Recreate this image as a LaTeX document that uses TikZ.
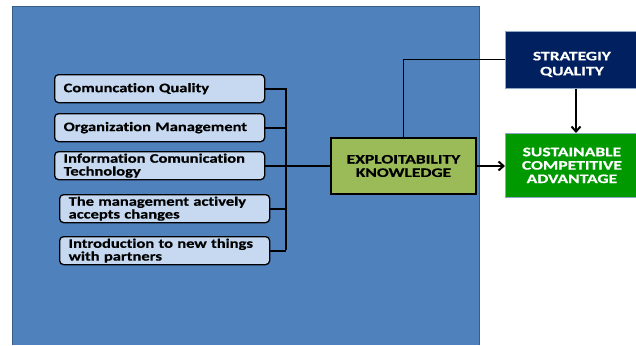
\documentclass[tikz,border=0pt]{standalone}
\usepackage{fontspec}
\setmainfont{Carlito}[Ligatures=NoCommon]
\newfontfamily\lowfont{Carlito}[Ligatures=NoCommon, FakeStretch=1.27, BoldFeatures={FakeBold=0.6}]
\newfontfamily\capfont{Carlito}[Ligatures=NoCommon, FakeStretch=1.35, BoldFeatures={FakeBold=0.6}]
\usetikzlibrary{arrows.meta}
\definecolor{bgblue}{HTML}{4F81BD}
\definecolor{bgedge}{HTML}{385D8A}
\definecolor{lightbox}{HTML}{C6D9F1}
\definecolor{ekgreen}{HTML}{9BBB59}
\definecolor{navy}{HTML}{002060}
\definecolor{scagreen}{HTML}{009900}
\definecolor{paleedge}{HTML}{8EA9C8}
\tikzset{
  factor/.style={draw=black, line width=1.3pt, fill=lightbox, rounded corners=4pt,
    anchor=north west, text width=192pt, inner xsep=9pt, inner ysep=0pt,
    minimum height=28pt, align=left, font=\lowfont\bfseries\fontsize{13}{12.8}\selectfont},
  bus/.style={line width=2pt, black},
  rbox/.style={anchor=north west, inner sep=0pt, align=center,
    font=\capfont\bfseries\fontsize{13}{13.4}\selectfont},
}
\begin{document}
\begin{tikzpicture}[x=1pt,y=-1pt]
\useasboundingbox (0,0) rectangle (636,345);
\fill[white] (0,0) rectangle (636,345);
% blue background panel
\fill[bgblue] (12,6) rectangle (480,345);
\draw[bgedge, line width=1.2pt] (12.6,345) -- (12.6,6.6) -- (479.4,6.6) -- (479.4,345);
% factor boxes
\node[factor] (f1) at (54,74) {Comuncation Quality};
\node[factor] (f2) at (54,113) {Organization Management};
\node[factor] (f3) at (54,151) {Information Comunication\\Technology};
\node[factor] (f4) at (59,194) {The management actively\\accepts changes};
\node[factor] (f5) at (59,236) {Introduction to new things\\with partners};
% bus
\coordinate (bt) at (286,88);
\coordinate (bb) at (286,250);
\draw[bus] (bt) -- (bb);
\draw[bus] (f1.east) -- (f1.east -| bt);
\draw[bus] (f2.east) -- (f2.east -| bt);
\draw[bus] (f3.east) -- (f3.east -| bt);
\draw[bus] (f4.east) -- (f4.east -| bt);
\draw[bus] (f5.east) -- (f5.east -| bt);
% exploitability knowledge
\node[rbox, draw=black, line width=2pt, fill=ekgreen, minimum width=145pt, minimum height=56pt]
  (ek) at (330,137) {EXPLOITABILITY\\KNOWLEDGE};
\draw[bus] (f3.east -| bt) -- (ek.west |- f3.east);
% strategy quality
\node[rbox, fill=navy, draw=paleedge, line width=0.8pt, minimum width=133pt, minimum height=57pt]
  (sq) at (505,31) {};
\node[inner sep=0pt, align=center, text=white, font=\capfont\bfseries\fontsize{13}{15}\selectfont]
  (sqt) at ([yshift=-4.5pt]sq.center) {STRATEGIY\\QUALITY};
% sustainable competitive advantage
\node[rbox, fill=scagreen, draw=paleedge, line width=0.8pt, minimum width=133pt, minimum height=64pt,
  text=white] (sca) at (505,133) {SUSTAINABLE\\COMPETITIVE\\ADVANTAGE};
% connectors
\draw[line width=2pt, -{Straight Barb[length=5pt,width=9pt]}] (ek.east) -- (sca.west |- ek.east);
\draw[line width=2pt, -{Straight Barb[length=5pt,width=9pt]}] (sq.south -| 576,0) -- (sca.north -| 576,0);
\coordinate (kink) at (403,59);
\draw[line width=0.8pt, black] (sq.west |- kink) -- (kink) -- (kink |- ek.north);
\end{tikzpicture}
\end{document}
